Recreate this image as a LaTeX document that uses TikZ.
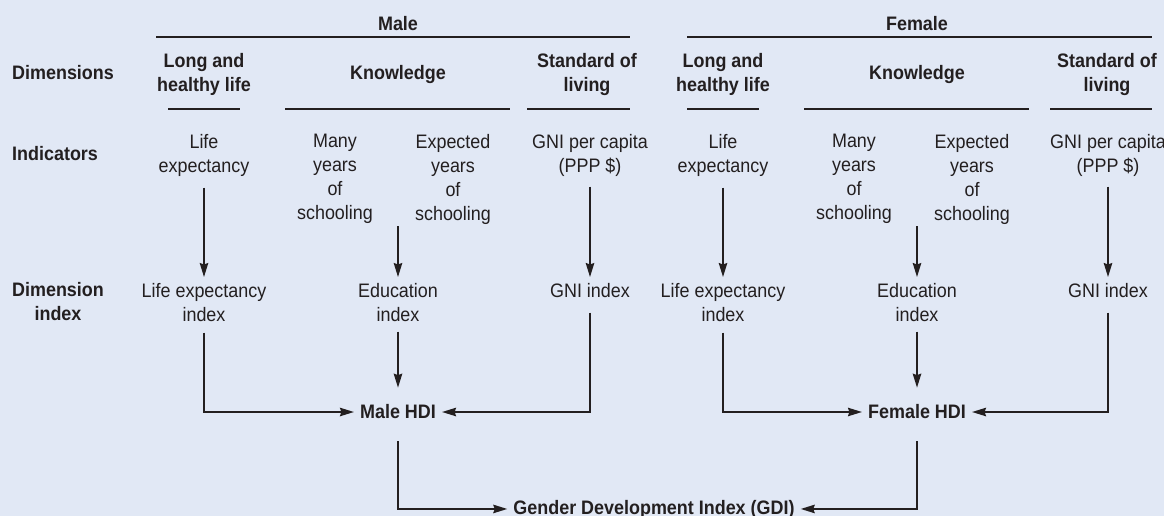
\documentclass[tikz,border=0pt]{standalone}
\usepackage{fontspec}
\setmainfont{Liberation Sans}[FakeStretch=0.92]
\usetikzlibrary{arrows.meta}
\definecolor{bg}{RGB}{225,232,245}
\definecolor{ink}{RGB}{35,31,32}
\begin{document}
\begin{tikzpicture}[x=1pt,y=-1pt,
  txt/.style={inner sep=6pt, align=center, anchor=north, text=ink, font=\fontsize{19.5}{24}\selectfont},
  hd/.style={txt, font=\fontsize{19.5}{24}\selectfont\bfseries},
  rule/.style={draw=ink, line width=2pt},
  arr/.style={draw=ink, line width=1.6pt, -{Stealth[length=14pt,width=8.5pt,inset=1.5pt]}}]
\fill[bg] (0,0) rectangle (1164,516);
\useasboundingbox (0,0) rectangle (1164,516);

% headers
\node[hd] (male) at (398,10) {Male};
\node[hd] (female) at (917,10) {Female};
\draw[rule] (156,37) -- (630,37);
\draw[rule] (687,37) -- (1152,37);

% dimensions
\node[hd, anchor=north west] (dimlab) at (6,59) {Dimensions};
\node[hd] (mLH) at (204,47) {Long and\\healthy life};
\node[hd] (mKn) at (398,59) {Knowledge};
\node[hd] (mSL) at (587,47) {Standard of\\living};
\node[hd] (fLH) at (723,47) {Long and\\healthy life};
\node[hd] (fKn) at (917,59) {Knowledge};
\node[hd] (fSL) at (1107,47) {Standard of\\living};
\draw[rule] (168,109) -- (240,109);
\draw[rule] (285,109) -- (510,109);
\draw[rule] (527,109) -- (630,109);
\draw[rule] (687,109) -- (759,109);
\draw[rule] (804,109) -- (1029,109);
\draw[rule] (1050,109) -- (1152,109);

% indicators
\node[hd, anchor=north west] (indlab) at (6,140) {Indicators};
\node[txt] (mLE) at (204,128) {Life\\expectancy};
\node[txt] (mMY) at (335,128) {Many\\years\\of\\schooling};
\node[txt] (mEY) at (453,128) {Expected\\years\\of\\schooling};
\node[txt] (mGNI) at (590,128) {GNI per capita\\(PPP \$)};
\node[txt] (fLE) at (723,128) {Life\\expectancy};
\node[txt] (fMY) at (854,128) {Many\\years\\of\\schooling};
\node[txt] (fEY) at (972,128) {Expected\\years\\of\\schooling};
\node[txt] (fGNI) at (1108,128) {GNI per capita\\(PPP \$)};
\coordinate (mKb) at (398,226);
\coordinate (fKb) at (917,226);

% dimension index
\node[hd] (dilab) at (58,276) {Dimension\\index};
\node[txt] (mLEi) at (204,277) {Life expectancy\\index};
\node[txt] (mEdu) at (398,277) {Education\\index};
\node[txt] (mGNIi) at (590,277) {GNI index};
\node[txt] (fLEi) at (723,277) {Life expectancy\\index};
\node[txt] (fEdu) at (917,277) {Education\\index};
\node[txt] (fGNIi) at (1108,277) {GNI index};

% HDI and GDI
\node[hd, anchor=center] (mHDI) at (398,412) {Male HDI};
\node[hd, anchor=center] (fHDI) at (917,412) {Female HDI};
\node[hd, anchor=base] (gdi) at (654,514) {Gender Development Index (GDI)};

% arrows
\draw[arr, shorten <=5pt] (mLE.south) -- (mLEi.north);
\draw[arr] (mKb) -- (mEdu.north);
\draw[arr, shorten <=4pt] (mGNI.south) -- (mGNIi.north);
\draw[arr, shorten <=5pt] (fLE.south) -- (fLEi.north);
\draw[arr] (fKb) -- (fEdu.north);
\draw[arr, shorten <=4pt] (fGNI.south) -- (fGNIi.north);

\draw[arr, shorten <=5pt] (mLEi.south) |- (mHDI.west);
\draw[arr, shorten <=4pt, shorten >=11pt] (mEdu.south) -- (mHDI.north);
\draw[arr, shorten <=9pt] (mGNIi.south) |- (mHDI.east);
\draw[arr, shorten <=5pt] (fLEi.south) |- (fHDI.west);
\draw[arr, shorten <=4pt, shorten >=11pt] (fEdu.south) -- (fHDI.north);
\draw[arr, shorten <=9pt] (fGNIi.south) |- (fHDI.east);

\draw[arr, shorten <=16pt] (mHDI.south) |- (gdi.west);
\draw[arr, shorten <=16pt] (fHDI.south) |- (gdi.east);
\end{tikzpicture}
\end{document}
